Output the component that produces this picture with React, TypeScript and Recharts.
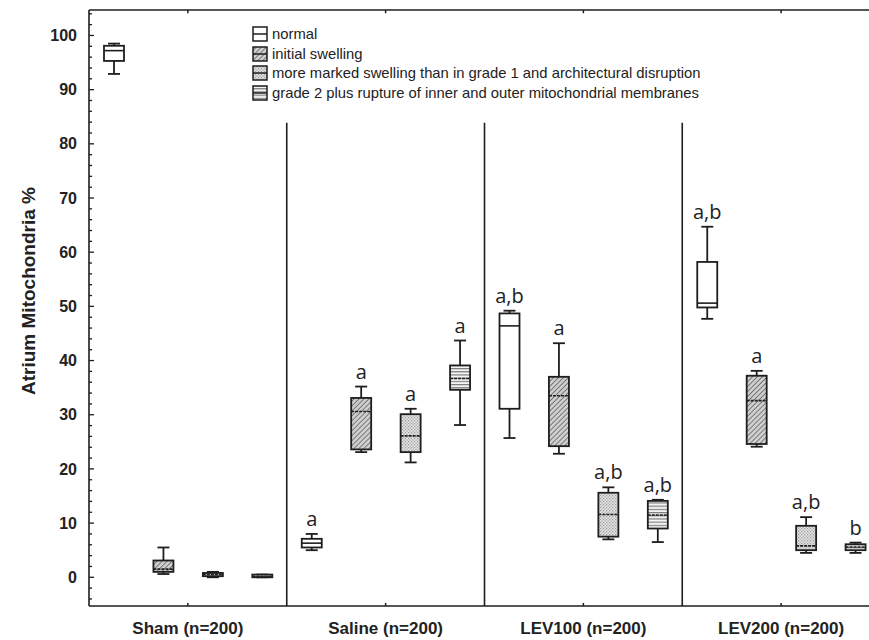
import {
  ComposedChart,
  Bar,
  XAxis,
  YAxis,
  ReferenceLine,
  LabelList,
  Legend,
} from "recharts";

const groups = ["Sham (n=200)", "Saline (n=200)", "LEV100 (n=200)", "LEV200 (n=200)"];
const grades = [
  "normal",
  "initial swelling",
  "more marked swelling than in grade 1 and architectural disruption",
  "grade 2 plus rupture of inner and outer mitochondrial membranes",
];

// per group: [min, q1, median, q3, max]
const normalStats = [
  [92.9, 95.3, 97.2, 98.1, 98.5],
  [5.0, 5.5, 6.3, 7.1, 8.0],
  [25.7, 31.1, 46.4, 48.7, 49.2],
  [47.7, 49.8, 50.6, 58.2, 64.7],
];
const initialStats = [
  [0.6, 1.0, 1.5, 3.1, 5.5],
  [23.1, 23.6, 30.6, 33.1, 35.2],
  [22.8, 24.2, 33.5, 37.0, 43.2],
  [24.1, 24.6, 32.6, 37.2, 38.1],
];
const markedStats = [
  [0, 0.2, 0.5, 0.8, 1.0],
  [21.2, 23.1, 26.1, 30.1, 31.1],
  [7.0, 7.5, 11.6, 15.6, 16.6],
  [4.5, 5.0, 5.8, 9.5, 11.1],
];
const ruptureStats = [
  [0, 0, 0.2, 0.5, 0.5],
  [28.1, 34.6, 36.7, 39.1, 43.7],
  [6.5, 9.0, 11.5, 14.1, 14.3],
  [4.5, 5.0, 5.6, 6.1, 6.4],
];

const normalSig = ["", "a", "a,b", "a,b"];
const initialSig = ["", "a", "a", "a"];
const markedSig = ["", "a", "a,b", "a,b"];
const ruptureSig = ["", "a", "a,b", "b"];

const yTickLabels = [0, 10, 20, 30, 40, 50, 60, 70, 80, 90, 100];
const yMinorTicks = Array.from({ length: 55 }, (_, i) => -4 + i * 2);
const groupTicks = [0.5, 1.5, 2.5, 3.5];
const dividers = [1, 2, 3];

const statsByGrade = [normalStats, initialStats, markedStats, ruptureStats];
const sigByGrade = [normalSig, initialSig, markedSig, ruptureSig];
const fills = ["#ffffff", "url(#hatch)", "url(#dots)", "url(#lines)"];

const rows = groups.flatMap((_, gi) =>
  grades.map((__, k) => {
    const [min, q1, median, q3, max] = statsByGrade[k][gi];
    return {
      id: `${gi}-${k}`,
      pos: gi + (k + 0.5) / grades.length,
      grade: k,
      box: [q1, q3],
      whisker: [min, max],
      q1,
      q3,
      median,
      sig: sigByGrade[k][gi],
    };
  })
);

const ink = "#1e1e1e";
const Y_MIN = -5.3;
const Y_MAX = 104.7;

const BoxShape = (props: any) => {
  const { x, y, width, height, payload } = props;
  const top = Math.min(y, y + height);
  const h = Math.abs(height);
  const span = payload.q3 - payload.q1;
  const my = span > 0 ? top + (h * (payload.q3 - payload.median)) / span : top;
  return (
    <g>
      <rect x={x} y={top} width={width} height={h} fill={fills[payload.grade]} stroke={ink} strokeWidth={1.8} />
      <line
        x1={x}
        x2={x + width}
        y1={my}
        y2={my}
        stroke={ink}
        strokeWidth={1.6}
        strokeDasharray={payload.grade === 0 ? undefined : "3 1"}
      />
    </g>
  );
};

const WhiskerShape = (props: any) => {
  const { x, y, width, height } = props;
  const top = Math.min(y, y + height);
  const bottom = top + Math.abs(height);
  const cx = x + width / 2;
  return (
    <g stroke={ink} strokeWidth={1.8}>
      <line x1={cx} x2={cx} y1={top} y2={bottom} />
      <line x1={cx - 6} x2={cx + 6} y1={top} y2={top} />
      <line x1={cx - 6} x2={cx + 6} y1={bottom} y2={bottom} />
    </g>
  );
};

const renderSig = (props: any) => {
  const { x, y, width, height, value } = props;
  if (!value) return null;
  const top = Math.min(y, y + height);
  return (
    <text
      x={x + width / 2}
      y={top - 8}
      textAnchor="middle"
      fontFamily="'Open Sans', sans-serif"
      fontSize={20}
      fill="#222"
    >
      {value}
    </text>
  );
};

const YTick = (props: any) => {
  const { x, y, payload } = props;
  const major = yTickLabels.includes(payload.value);
  return (
    <g>
      <line x1={x} x2={x + (major ? 5 : 3)} y1={y} y2={y} stroke={ink} strokeWidth={1.3} />
      {major && (
        <text
          x={x - 12}
          y={y}
          dy="0.35em"
          textAnchor="end"
          fontFamily="'Liberation Sans', Arial, sans-serif"
          fontWeight="bold"
          fontSize={16}
          fill="#222"
        >
          {payload.value}
        </text>
      )}
    </g>
  );
};

const XTick = (props: any) => {
  const { x, y, payload } = props;
  const idx = Math.floor(payload.value);
  return (
    <g>
      <line x1={x} x2={x} y1={y} y2={y - 3} stroke={ink} strokeWidth={1.5} />
      <text
        x={x}
        y={y + 28}
        textAnchor="middle"
        fontFamily="'Liberation Sans', Arial, sans-serif"
        fontWeight="bold"
        fontSize={17}
        fill="#222"
      >
        {groups[idx]}
      </text>
    </g>
  );
};

const renderLegend = () => (
  <div style={{ fontFamily: "'Liberation Sans', Arial, sans-serif", fontSize: 14.8, color: "#222" }}>
    {grades.map((g, k) => (
      <div key={g} style={{ display: "flex", alignItems: "center", height: 19.7, whiteSpace: "nowrap" }}>
        <svg width={16} height={16} style={{ marginRight: 4, flex: "none" }}>
          <rect x={1} y={1} width={14} height={14} fill={fills[k]} stroke={ink} strokeWidth={1.5} />
          <line x1={1} x2={15} y1={8} y2={8} stroke={ink} strokeWidth={1.5} />
        </svg>
        <span>{g}</span>
      </div>
    ))}
  </div>
);

const App = () => {
  return (
    <div
      style={{
        position: "absolute",
        left: 0,
        top: 0,
        width: 869,
        height: 640,
        overflow: "hidden",
        background: "#fff",
      }}
    >
      <ComposedChart width={900} height={640} data={rows} margin={{ top: 10, right: 20, bottom: 0, left: 0 }}>
        <defs>
          <pattern id="hatch" width={3.5} height={3.5} patternUnits="userSpaceOnUse" patternTransform="rotate(45)">
            <rect width={3.5} height={3.5} fill="#cfcfcf" />
            <line x1={0} x2={0} y1={0} y2={3.5} stroke="#555" strokeWidth={1.4} />
          </pattern>
          <pattern id="dots" width={3} height={3} patternUnits="userSpaceOnUse">
            <rect width={3} height={3} fill="#e4e4e4" />
            <rect x={0} y={0} width={1.2} height={1.2} fill="#9a9a9a" />
            <rect x={1.5} y={1.5} width={1.2} height={1.2} fill="#9a9a9a" />
          </pattern>
          <pattern id="lines" width={4} height={3.2} patternUnits="userSpaceOnUse">
            <rect width={4} height={3.2} fill="#f4f4f4" />
            <line x1={0} x2={4} y1={0.6} y2={0.6} stroke="#666" strokeWidth={1} />
          </pattern>
        </defs>
        <XAxis xAxisId="w" dataKey="id" type="category" hide height={0} />
        <XAxis xAxisId="b" dataKey="id" type="category" hide height={0} />
        <XAxis
          xAxisId="grp"
          dataKey="pos"
          type="number"
          domain={[0, 4]}
          allowDataOverflow
          ticks={groupTicks}
          height={34}
          tickSize={0}
          tickMargin={0}
          tickLine={false}
          tick={<XTick />}
          axisLine={{ stroke: ink, strokeWidth: 1.6 }}
          interval={0}
        />
        <YAxis
          type="number"
          domain={[Y_MIN, Y_MAX]}
          ticks={yMinorTicks}
          interval={0}
          width={89}
          tickSize={0}
          tickMargin={0}
          tickLine={false}
          tick={<YTick />}
          axisLine={{ stroke: ink, strokeWidth: 1.6 }}
          allowDataOverflow
          label={{
            content: () => (
              <text
                x={28}
                y={291}
                transform="rotate(-90 28 291)"
                textAnchor="middle"
                dy="0.35em"
                fontFamily="'Liberation Sans', Arial, sans-serif"
                fontWeight="bold"
                fontSize={19}
                fill="#222"
              >
                Atrium Mitochondria %
              </text>
            ),
          }}
        />
        {/* top frame and its small ticks */}
        <ReferenceLine xAxisId="grp" y={Y_MAX} stroke={ink} strokeWidth={1.6} />
        {groupTicks.map((v) => (
          <ReferenceLine
            key={`t${v}`}
            xAxisId="grp"
            segment={[
              { x: v, y: Y_MAX },
              { x: v, y: Y_MAX - 0.6 },
            ]}
            stroke={ink}
            strokeWidth={1.5}
          />
        ))}
        {dividers.map((v) => (
          <ReferenceLine
            key={v}
            xAxisId="grp"
            segment={[
              { x: v, y: Y_MIN },
              { x: v, y: 83.9 },
            ]}
            stroke={ink}
            strokeWidth={1.6}
          />
        ))}
        <Bar xAxisId="w" dataKey="whisker" barSize={20} shape={<WhiskerShape />} isAnimationActive={false}>
          <LabelList dataKey="sig" content={renderSig} />
        </Bar>
        <Bar xAxisId="b" dataKey="box" barSize={20} shape={<BoxShape />} isAnimationActive={false} />
        <Legend
          layout="vertical"
          align="center"
          verticalAlign="middle"
          content={renderLegend}
          wrapperStyle={{ left: 252, top: 24, width: 560 }}
        />
      </ComposedChart>
    </div>
  );
};

export default App;
